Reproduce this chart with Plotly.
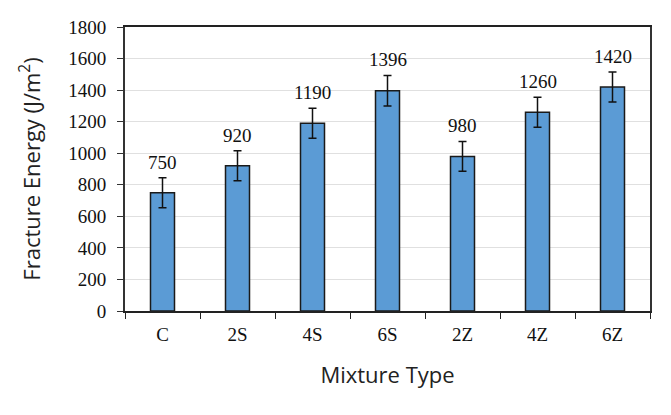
import plotly.graph_objects as go

categories = ["C", "2S", "4S", "6S", "2Z", "4Z", "6Z"]
values = [750, 920, 1190, 1396, 980, 1260, 1420]
errors = [95, 95, 95, 97, 95, 95, 95]
tick_vals = [0, 200, 400, 600, 800, 1000, 1200, 1400, 1600, 1800]

fig = go.Figure()
fig.add_trace(go.Bar(
    x=categories, y=values,
    marker=dict(color="#5B9BD5", line=dict(color="#1a1a1a", width=1.5)),
    error_y=dict(type="data", array=errors, visible=True, color="#111111", thickness=1.5, width=4),
    width=0.32,
))

for c, v, e in zip(categories, values, errors):
    fig.add_annotation(x=c, y=v + e, text=str(v), showarrow=False, yanchor="bottom", yshift=3,
                       font=dict(family="Liberation Serif", size=19, color="#111111"))

fig.update_layout(
    width=671, height=415,
    margin=dict(l=125, r=21, t=27, b=104),
    plot_bgcolor="white", paper_bgcolor="white",
    showlegend=False,
    xaxis=dict(
        title=dict(text="Mixture Type", font=dict(family="Open Sans", size=22, color="#222222"), standoff=24),
        tickfont=dict(family="Liberation Serif", size=19, color="#111111"),
        showline=True, linecolor="#222222", linewidth=1.5, mirror=True,
        ticks="outside", tickson="boundaries", ticklen=6, tickcolor="#222222",
        ticklabelstandoff=5,
    ),
    yaxis=dict(
        title=dict(text="Fracture Energy (J/m<sup>2</sup>)", font=dict(family="Open Sans", size=22, color="#222222"), standoff=22),
        tickfont=dict(family="Liberation Serif", size=19, color="#111111"),
        range=[0, 1800], tickvals=tick_vals,
        showline=True, linecolor="#333333", linewidth=2, mirror=True,
        ticks="outside", ticklen=6, tickcolor="#333333",
        showgrid=True, gridcolor="#e0e0e0", gridwidth=1, zeroline=False,
        ticklabelstandoff=7,
    ),
)

fig.write_html("out.html")
